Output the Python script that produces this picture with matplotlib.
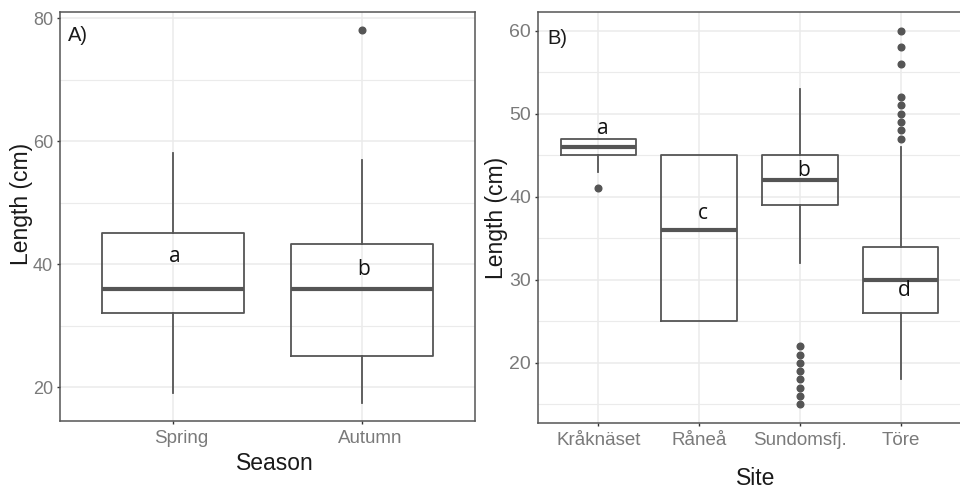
import matplotlib
matplotlib.use("Agg")
import matplotlib.pyplot as plt
import matplotlib.transforms as mtransforms
from matplotlib.ticker import MultipleLocator

# ---------------- data ----------------
seasons = ["Spring", "Autumn"]
season_q1 = [32.0, 25.0]
season_med = [36.0, 36.0]
season_q3 = [45.0, 43.3]
season_whislo = [19.0, 17.5]
season_whishi = [58.0, 57.0]
season_fliers = [[], [78.0]]
season_letters = ["a", "b"]
season_letter_y = [41.2, 39.2]

sites = ["Kråknäset", "Råneå", "Sundomsfj.", "Töre"]
site_q1 = [45.0, 25.0, 39.0, 26.0]
site_med = [46.0, 36.0, 42.0, 30.0]
site_q3 = [47.0, 45.0, 45.0, 34.0]
site_whislo = [43.0, 25.0, 32.0, 18.0]
site_whishi = [47.0, 45.0, 53.0, 46.0]
site_fliers = [[41.0], [], [15, 16, 17, 18, 19, 20, 21, 22],
               [47, 48, 49, 50, 51, 52, 56, 58, 60]]
site_letters = ["a", "c", "b", "d"]
site_letter_y = [48.2, 38.0, 43.2, 28.7]

# ---------------- style ----------------
W, H = 960, 490
DPI = 100
LINE = "#555555"
GRID = "#EBEBEB"
TICKTXT = "#7A7A7A"
TITLE = "#1A1A1A"
plt.rcParams["font.family"] = ["Liberation Sans", "DejaVu Sans"]

fig = plt.figure(figsize=(W / DPI, H / DPI), dpi=DPI)


def px_axes(l, r, t, b):
    return fig.add_axes([l / W, 1 - b / H, (r - l) / W, (b - t) / H])


def make_stats(q1, med, q3, lo, hi, fl):
    return [dict(q1=a, med=m, q3=c, whislo=w0, whishi=w1, fliers=f)
            for a, m, c, w0, w1, f in zip(q1, med, q3, lo, hi, fl)]


def style_axes(ax, ncat, labels, major, minor, ysize):
    ax.set_xlim(0.4, ncat + 0.6)
    ax.set_xticks(range(1, ncat + 1))
    ax.set_xticklabels(labels)
    ax.yaxis.set_major_locator(MultipleLocator(major))
    ax.yaxis.set_minor_locator(MultipleLocator(minor))
    ax.grid(True, which="major", color=GRID, lw=1.1, zorder=0)
    ax.grid(True, which="minor", axis="y", color=GRID, lw=0.8, zorder=0)
    ax.set_axisbelow(True)
    for s in ax.spines.values():
        s.set_color(LINE)
        s.set_linewidth(1.1)
    ax.tick_params(axis="both", which="major", length=2.5, width=1.0,
                   color="#333333")
    ax.tick_params(axis="y", which="minor", length=0)
    ax.tick_params(axis="y", labelsize=ysize, labelcolor=TICKTXT, pad=2.5)
    ax.tick_params(axis="x", labelsize=13.5, labelcolor=TICKTXT, pad=4)


def draw_box(ax, stats, n):
    ax.bxp(stats, positions=list(range(1, n + 1)), widths=0.75,
           showcaps=False, showfliers=True, patch_artist=False,
           boxprops=dict(color=LINE, lw=1.3),
           whiskerprops=dict(color=LINE, lw=1.3),
           medianprops=dict(color=LINE, lw=3.0, solid_capstyle="butt"),
           flierprops=dict(marker="o", markerfacecolor=LINE,
                           markeredgecolor=LINE, markersize=4.8))


LETTER_FONT = ["Open Sans", "DejaVu Sans"]

# ---------------- panel A ----------------
axA = px_axes(60, 475, 12, 421)
draw_box(axA, make_stats(season_q1, season_med, season_q3, season_whislo,
                         season_whishi, season_fliers), len(seasons))
axA.set_ylim(14.5, 81.0)
style_axes(axA, len(seasons), seasons, 20, 10, 13)
off = mtransforms.ScaledTranslation(8 / DPI, 0, fig.dpi_scale_trans)
for lab in axA.get_xticklabels():
    lab.set_transform(lab.get_transform() + off)
for i, (t, y) in enumerate(zip(season_letters, season_letter_y)):
    axA.text(i + 1.01, y, t, ha="center", va="center", fontsize=15,
             family=LETTER_FONT, color="#111111")
axA.text(0.019, 0.965, "A)", transform=axA.transAxes, ha="left", va="top",
         fontsize=14.5, color=TITLE)

# ---------------- panel B ----------------
axB = px_axes(538, 961, 12, 423)
draw_box(axB, make_stats(site_q1, site_med, site_q3, site_whislo,
                         site_whishi, site_fliers), len(sites))
axB.set_ylim(12.75, 62.25)
style_axes(axB, len(sites), sites, 10, 5, 14)
for i, (t, y) in enumerate(zip(site_letters, site_letter_y)):
    axB.text(i + 1.04, y, t, ha="center", va="center", fontsize=15,
             family=LETTER_FONT, color="#111111")
axB.text(0.021, 0.958, "B)", transform=axB.transAxes, ha="left", va="top",
         fontsize=14.5, color=TITLE)

# ---------------- axis titles ----------------
fig.text(274.7 / W, 1 - 463 / H, "Season", ha="center", va="center",
         fontsize=16.5, color=TITLE)
fig.text(755.8 / W, 1 - 478 / H, "Site", ha="center", va="center",
         fontsize=16.5, color=TITLE)
fig.text(21.7 / W, 1 - 204 / H, "Length (cm)", ha="center", va="center",
         rotation=90, fontsize=16.5, color=TITLE)
fig.text(496.5 / W, 1 - 218 / H, "Length (cm)", ha="center", va="center",
         rotation=90, fontsize=16.5, color=TITLE)

fig.savefig("out.png", dpi=DPI, facecolor="white")
